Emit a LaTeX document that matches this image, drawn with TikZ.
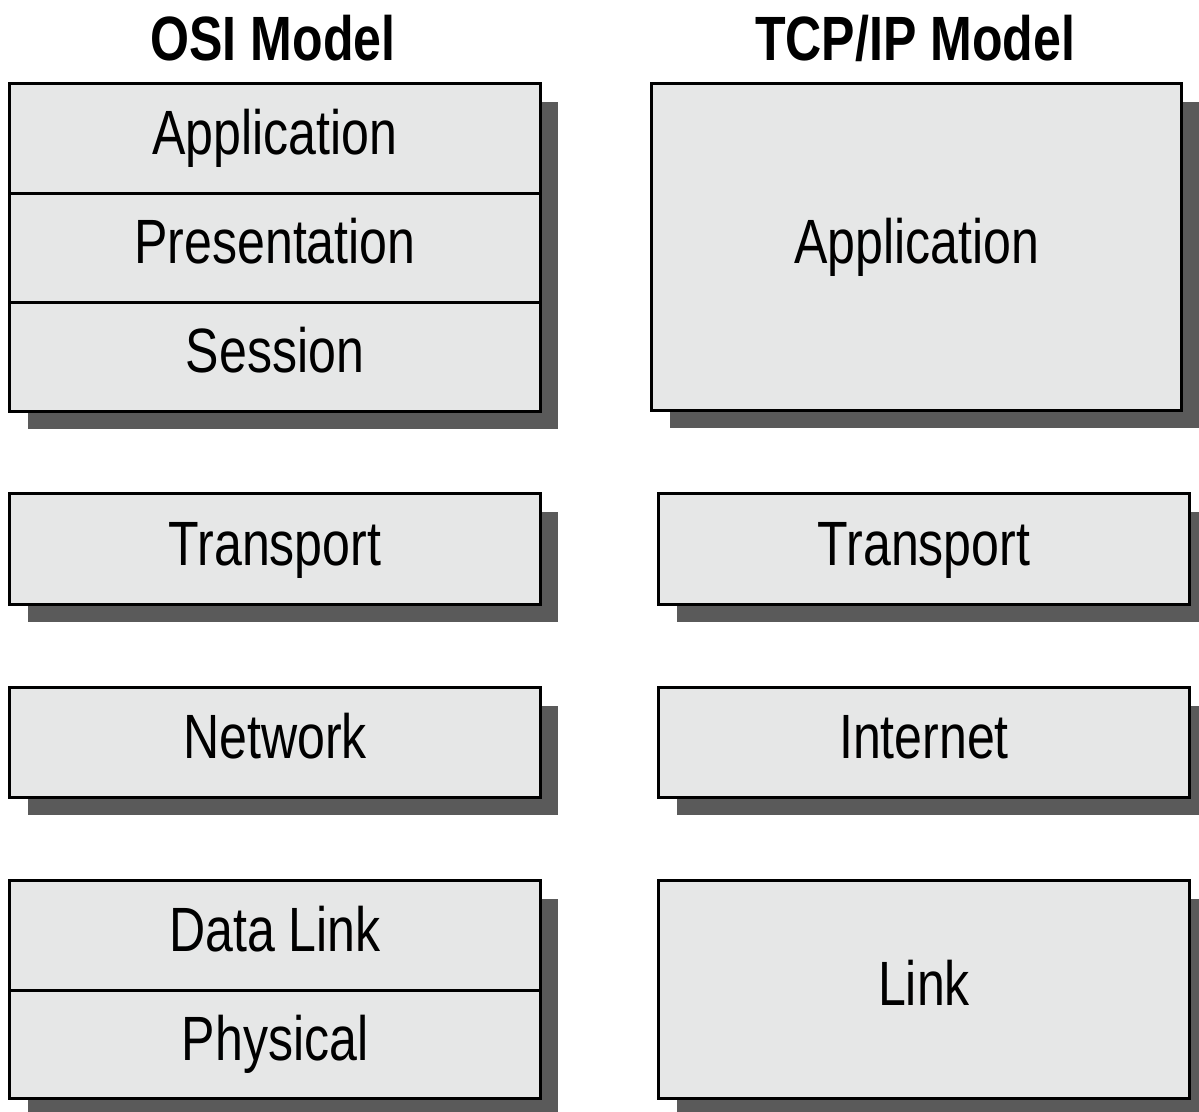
\documentclass[tikz,border=0pt]{standalone}
\usepackage{fontspec}
\setmainfont{Liberation Sans}[FakeStretch=0.8]
\usetikzlibrary{positioning,shadows}
\definecolor{layerfill}{HTML}{E6E7E7}
\definecolor{layershadow}{HTML}{5A5A5A}
\begin{document}
\begin{tikzpicture}[x=0.01cm,y=-0.01cm,
    layer/.style={draw=black, line width=0.03cm, fill=layerfill, outer sep=0pt, inner sep=0pt,
        minimum width=5.3cm, minimum height=1.09cm, text height=0.45cm, text depth=0.13cm,
        font=\fontsize{17.8}{20}\selectfont,
        drop shadow={shadow xshift=0.18cm, shadow yshift=-0.18cm, fill=layershadow, opacity=1}},
    title/.style={font=\fontsize{17.8}{20}\selectfont\bfseries}]
    \fill[white] (0,0) rectangle (1199,1112);
    \useasboundingbox (0,0) rectangle (1199,1112);

    % OSI model
    \node[title] (osititle) at (273,38) {OSI Model};
    \node[layer] (osiapp) at (275,138.5) {Application};
    \node[layer, below=0pt of osiapp] (osipres) {Presentation};
    \node[layer, below=0pt of osipres] (osisess) {Session};
    \node[layer, minimum height=1.1cm] (ositrans) at (275,549) {Transport};
    \node[layer] (osinet) at (275,742.5) {Network};
    \node[layer] (osidata) at (275,935.5) {Data Link};
    \node[layer, below=0pt of osidata, minimum height=1.08cm] (osiphys) {Physical};

    % TCP/IP model
    \node[title] (tcptitle) at (915,38) {TCP/IP Model};
    \node[layer, minimum width=5.29cm, minimum height=3.26cm] (tcpapp) at (916.5,247) {Application};
    \node[layer, minimum height=1.1cm] (tcptrans) at (924,549) {Transport};
    \node[layer] (tcpinet) at (924,742.5) {Internet};
    \node[layer, minimum height=2.17cm] (tcplink) at (924,989.5) {Link};
\end{tikzpicture}
\end{document}
